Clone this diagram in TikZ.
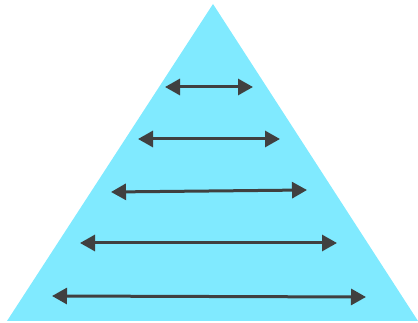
\documentclass[tikz,border=0pt]{standalone}
\usetikzlibrary{arrows.meta}
\definecolor{tri}{RGB}{128,234,255}
\definecolor{arr}{RGB}{64,64,64}
\begin{document}
\begin{tikzpicture}[x=1pt,y=-1pt,
  dbl/.style={draw=arr,line width=3pt,{Triangle[length=15pt,width=16pt]}-{Triangle[length=15pt,width=16pt]}}]
\useasboundingbox (0,0) rectangle (418,323);
\coordinate (apex) at (213,4);
\coordinate (bl) at (7,321);
\coordinate (br) at (418,321);
\fill[tri] (apex) -- (br) -- (bl) -- cycle;
\coordinate (a1l) at (165,87);  \coordinate (a1r) at (253,87);
\coordinate (a2l) at (138,139); \coordinate (a2r) at (280,139);
\coordinate (a3l) at (111,192); \coordinate (a3r) at (307,190);
\coordinate (a4l) at (80,243);  \coordinate (a4r) at (337,243);
\coordinate (a5l) at (52,296);  \coordinate (a5r) at (366,297);
\draw[dbl] (a1l) -- (a1r);
\draw[dbl] (a2l) -- (a2r);
\draw[dbl] (a3l) -- (a3r);
\draw[dbl] (a4l) -- (a4r);
\draw[dbl] (a5l) -- (a5r);
\end{tikzpicture}
\end{document}
